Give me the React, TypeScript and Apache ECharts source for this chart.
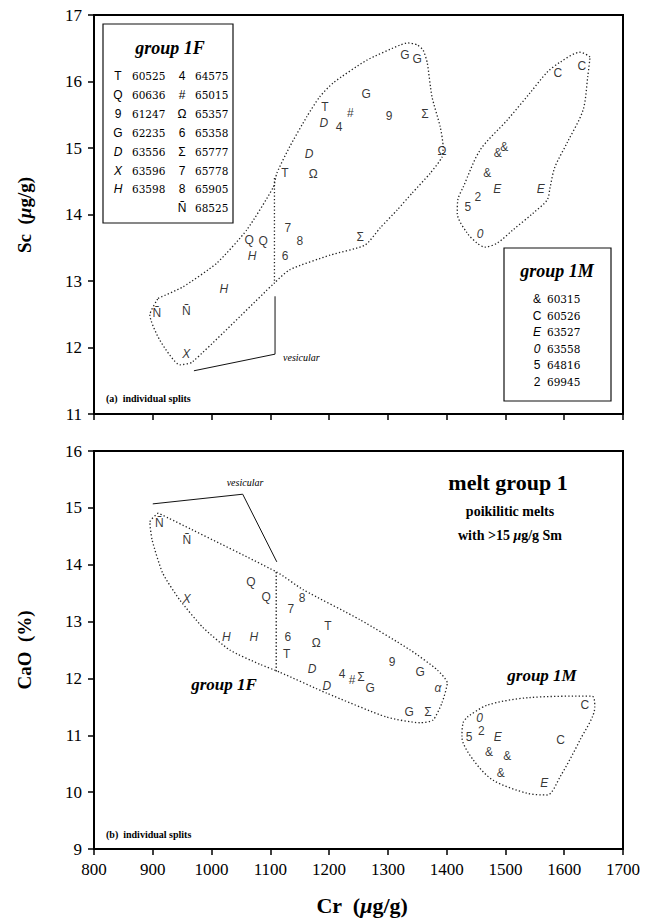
import React, { useEffect, useRef } from "react";
import * as echarts from "echarts";

// Panel (a): Sc vs Cr, individual splits — [symbol, Cr µg/g, Sc µg/g]
const scGroup1F: [string, number, number][] = [
  ["T", 1193, 15.62], ["D", 1191, 15.38], ["4", 1217, 15.32], ["#", 1236, 15.53],
  ["G", 1263, 15.81], ["9", 1302, 15.48], ["Σ", 1363, 15.51], ["Ω", 1392, 14.95],
  ["G", 1329, 16.4], ["G", 1350, 16.34], ["D", 1166, 14.91], ["T", 1125, 14.62],
  ["Ω", 1173, 14.61], ["Q", 1064, 13.62], ["Q", 1088, 13.6], ["H", 1069, 13.38],
  ["7", 1130, 13.8], ["8", 1150, 13.6], ["6", 1125, 13.38], ["Σ", 1253, 13.66],
  ["H", 1021, 12.88], ["Ñ", 907, 12.52], ["Ñ", 957, 12.55], ["X", 957, 11.9],
];
const scGroup1M: [string, number, number][] = [
  ["C", 1589, 16.13], ["C", 1630, 16.23], ["&", 1487, 14.92], ["&", 1498, 15.01],
  ["&", 1469, 14.62], ["E", 1486, 14.38], ["E", 1560, 14.38], ["2", 1453, 14.26],
  ["5", 1436, 14.11], ["0", 1457, 13.71],
];

// Panel (b): CaO vs Cr — [symbol, Cr µg/g, CaO %]
const caoGroup1F: [string, number, number][] = [
  ["Ñ", 911, 14.73], ["Ñ", 958, 14.43], ["Q", 1067, 13.7], ["Q", 1093, 13.43],
  ["X", 958, 13.4], ["8", 1154, 13.41], ["7", 1135, 13.22], ["T", 1198, 12.92],
  ["H", 1025, 12.73], ["H", 1072, 12.73], ["6", 1130, 12.73], ["Ω", 1178, 12.62],
  ["T", 1128, 12.43], ["D", 1171, 12.17], ["9", 1307, 12.29], ["G", 1355, 12.11],
  ["4", 1222, 12.08], ["#", 1239, 11.97], ["Σ", 1254, 12.03], ["D", 1196, 11.87],
  ["G", 1270, 11.83], ["α", 1385, 11.83], ["G", 1336, 11.41], ["Σ", 1368, 11.41],
];
const caoGroup1M: [string, number, number][] = [
  ["C", 1635, 11.53], ["0", 1456, 11.3], ["2", 1459, 11.08], ["5", 1438, 10.97],
  ["E", 1487, 10.97], ["C", 1594, 10.92], ["&", 1472, 10.71], ["&", 1503, 10.64],
  ["&", 1492, 10.34], ["E", 1566, 10.16],
];

// Dotted envelopes around each group (Cr, value)
const scEnvelope1F: [number, number][] = [
  [909, 12.74], [951, 12.91], [1009, 13.27], [1060, 13.77], [1105, 14.41], [1111, 14.62],
  [1133, 15.02], [1162, 15.47], [1184, 15.77], [1207, 15.98], [1264, 16.32], [1321, 16.55],
  [1334, 16.58], [1350, 16.55], [1360, 16.47], [1367, 16.28], [1375, 15.77], [1389, 15.32],
  [1394, 15.02], [1392, 14.86], [1372, 14.62], [1341, 14.32], [1316, 14.07], [1287, 13.8],
  [1261, 13.54], [1202, 13.39], [1133, 13.17], [1108, 12.98], [967, 11.78], [946, 11.74],
  [912, 12.11], [895, 12.49], [909, 12.74],
];
const scEnvelope1M: [number, number][] = [
  [1644, 16.37], [1627, 16.44], [1593, 16.29], [1571, 16.14], [1542, 15.83], [1503, 15.42],
  [1457, 14.97], [1428, 14.41], [1419, 14.22], [1418, 14.02], [1435, 13.72], [1452, 13.57],
  [1465, 13.51], [1486, 13.57], [1513, 13.77], [1547, 14.02], [1571, 14.22], [1576, 14.41],
  [1584, 14.71], [1605, 15.08], [1632, 15.57], [1640, 16.07], [1644, 16.37],
];
const caoEnvelope1F: [number, number][] = [
  [909, 14.91], [895, 14.75], [899, 14.43], [917, 13.85], [946, 13.38], [985, 12.9],
  [1031, 12.5], [1082, 12.25], [1116, 12.11], [1196, 11.74], [1298, 11.32], [1355, 11.22],
  [1377, 11.27], [1392, 11.57], [1401, 11.92], [1384, 12.15], [1338, 12.5], [1253, 13.03],
  [1156, 13.56], [1111, 13.87], [909, 14.91],
];
const caoEnvelope1M: [number, number][] = [
  [1435, 11.32], [1469, 11.53], [1537, 11.66], [1647, 11.69], [1652, 11.5], [1627, 10.92],
  [1593, 10.27], [1571, 9.95], [1537, 9.98], [1479, 10.21], [1445, 10.57], [1426, 10.97],
  [1428, 11.22], [1435, 11.32],
];

// Divider between vesicular and non-vesicular splits, and the bracket pointing to it
const scDivider: [number, number][] = [[1107, 14.55], [1107, 12.98]];
const scVesicularBracket: [number, number][] = [[970, 11.65], [1108, 11.9], [1108, 12.77]];
const caoDivider: [number, number][] = [[1110, 13.87], [1110, 12.12]];
const caoVesicularBracket: [number, number][] = [[900, 15.07], [1053, 15.24], [1111, 14.05]];

// Key: sample numbers for each symbol
const key1FLeft: [string, string][] = [
  ["T", "60525"], ["Q", "60636"], ["9", "61247"], ["G", "62235"],
  ["D", "63556"], ["X", "63596"], ["H", "63598"],
];
const key1FRight: [string, string][] = [
  ["4", "64575"], ["#", "65015"], ["Ω", "65357"], ["6", "65358"],
  ["Σ", "65777"], ["7", "65778"], ["8", "65905"], ["Ñ", "68525"],
];
const key1M: [string, string][] = [
  ["&", "60315"], ["C", "60526"], ["E", "63527"], ["0", "63558"], ["5", "64816"], ["2", "69945"],
];

const ITALIC = new Set(["D", "X", "H", "E", "0", "α"]);
const SANS = '"Liberation Sans", Arial, sans-serif';
const SERIF = '"Liberation Serif", "Times New Roman", serif';
const KEY_SERIF = '"DejaVu Serif", serif';
const INK = "#000";

const symbolPoints = (rows: [string, number, number][]) =>
  rows.map(([s, x, y]) => ({
    name: s,
    value: [x, y],
    label: { fontStyle: ITALIC.has(s) ? "italic" : "normal" },
  }));

const glyphSeries = (rows: [string, number, number][], axis: number) => ({
  type: "scatter",
  xAxisIndex: axis,
  yAxisIndex: axis,
  data: symbolPoints(rows),
  symbolSize: 1,
  itemStyle: { color: "rgba(255,255,255,0)" },
  label: {
    show: true,
    position: "inside",
    formatter: "{b}",
    color: INK,
    textBorderWidth: 0,
    fontFamily: SANS,
    fontSize: 12,
  },
  silent: true,
  z: 5,
});

const lineSeries = (pts: [number, number][], axis: number, dotted: boolean, smooth = 0) => ({
  type: "line",
  xAxisIndex: axis,
  yAxisIndex: axis,
  data: pts,
  smooth,
  symbol: "none",
  lineStyle: dotted
    ? { color: "#222", width: 1.3, type: [1.3, 2.2] }
    : { color: "#111", width: 1 },
  silent: true,
  z: 3,
});

const keyTexts = (
  rows: [string, string][],
  symX: number,
  codeX: number,
  y0: number,
  dy: number,
  size: number
) =>
  rows.flatMap(([s, code], i) => [
    {
      type: "text",
      x: symX,
      y: y0 + i * dy,
      z: 20,
      style: {
        text: s,
        align: "center",
        verticalAlign: "middle",
        font: `${ITALIC.has(s) ? "italic " : ""}12px ${SANS}`,
        fill: INK,
      },
    },
    {
      type: "text",
      x: codeX,
      y: y0 + i * dy,
      z: 20,
      style: {
        text: code,
        align: "left",
        verticalAlign: "middle",
        font: `${size}px ${KEY_SERIF}`,
        fill: INK,
      },
    },
  ]);

const plainText = (x: number, y: number, text: string, font: string, align = "center") => ({
  type: "text",
  x,
  y,
  z: 20,
  style: { text, align, verticalAlign: "middle", font, fill: INK },
});

export default function App() {
  const ref = useRef<HTMLDivElement>(null);

  useEffect(() => {
    if (!ref.current) return;
    const chart = echarts.init(ref.current, null, { renderer: "svg" });

    const xAxisBase = {
      type: "value",
      min: 800,
      max: 1700,
      interval: 100,
      axisLine: { show: true, onZero: false, lineStyle: { color: "#000", width: 2 } },
      axisTick: { show: true, inside: false, length: 6, lineStyle: { color: "#000", width: 1.5 } },
      splitLine: { show: false },
    };
    const yAxisBase = {
      type: "value",
      interval: 1,
      axisLine: { show: true, onZero: false, lineStyle: { color: "#000", width: 2 } },
      axisTick: { show: true, inside: false, length: 6, lineStyle: { color: "#000", width: 1.5 } },
      axisLabel: { color: INK, fontFamily: SERIF, fontSize: 17, margin: 12 },
      splitLine: { show: false },
    };

    const option: any = {
      animation: false,
      backgroundColor: "#fff",
      grid: [
        { left: 94, top: 15, width: 529, height: 399, show: true, borderColor: "#000", borderWidth: 2, backgroundColor: "transparent" },
        { left: 94, top: 451, width: 529, height: 398, show: true, borderColor: "#000", borderWidth: 2, backgroundColor: "transparent" },
      ],
      xAxis: [
        { ...xAxisBase, gridIndex: 0, axisLabel: { show: false } },
        {
          ...xAxisBase,
          gridIndex: 1,
          axisLabel: {
            show: true,
            color: INK,
            fontFamily: SERIF,
            fontSize: 17,
            margin: 12,
            formatter: (v: number) => String(v),
          },
        },
      ],
      yAxis: [
        { ...yAxisBase, gridIndex: 0, min: 11, max: 17 },
        { ...yAxisBase, gridIndex: 1, min: 9, max: 16 },
      ],
      series: [
        lineSeries(scEnvelope1F, 0, true, 0.2),
        lineSeries(scEnvelope1M, 0, true, 0.3),
        lineSeries(scDivider, 0, true),
        lineSeries(scVesicularBracket, 0, false),
        lineSeries(caoEnvelope1F, 1, true, 0.2),
        lineSeries(caoEnvelope1M, 1, true, 0.3),
        lineSeries(caoDivider, 1, true),
        lineSeries(caoVesicularBracket, 1, false),
        glyphSeries(scGroup1F, 0),
        glyphSeries(scGroup1M, 0),
        glyphSeries(caoGroup1F, 1),
        glyphSeries(caoGroup1M, 1),
      ],
      graphic: [
        // key boxes
        {
          type: "rect",
          z: 10,
          shape: { x: 103, y: 24, width: 130, height: 199 },
          style: { fill: "#fff", stroke: "#111", lineWidth: 1.2 },
        },
        {
          type: "rect",
          z: 10,
          shape: { x: 504, y: 248, width: 107, height: 153 },
          style: { fill: "#fff", stroke: "#111", lineWidth: 1.2 },
        },
        plainText(170, 48, "group 1F", `italic bold 18px ${SERIF}`),
        ...keyTexts(key1FLeft, 118, 132, 76, 18.9, 10.5),
        ...keyTexts(key1FRight, 182, 195, 76, 18.9, 10.5),
        plainText(557, 271, "group 1M", `italic bold 18px ${SERIF}`),
        ...keyTexts(key1M, 537, 547, 299, 16.6, 10.5),
        // annotations
        plainText(283, 357, "vesicular", `italic 10px ${SERIF}`, "left"),
        plainText(106, 398, "(a)  individual splits", `bold 10px ${SERIF}`, "left"),
        plainText(245, 482, "vesicular", `italic 10px ${SERIF}`),
        plainText(106, 834, "(b)  individual splits", `bold 10px ${SERIF}`, "left"),
        plainText(508, 482, "melt group 1", `bold 22px ${SERIF}`),
        plainText(510, 511, "poikilitic melts", `bold 14px ${SERIF}`),
        {
          type: "text",
          x: 510,
          y: 535,
          z: 20,
          style: {
            text: "{b|with >15 }{i|μ}{b|g/g Sm}",
            align: "center",
            verticalAlign: "middle",
            rich: {
              b: { font: `bold 14px ${SERIF}`, fill: INK },
              i: { font: `italic bold 14px ${SERIF}`, fill: INK },
            },
          },
        },
        plainText(224, 684, "group 1F", `italic bold 17px ${SERIF}`),
        plainText(542, 675, "group 1M", `italic bold 17px ${SERIF}`),
        // axis titles
        {
          type: "text",
          x: 24,
          y: 215,
          z: 20,
          rotation: Math.PI / 2,
          style: {
            text: "{b|Sc  (}{i|μ}{b|g/g)}",
            align: "center",
            verticalAlign: "middle",
            rich: {
              b: { font: `bold 19px ${SERIF}`, fill: INK },
              i: { font: `italic bold 19px ${SERIF}`, fill: INK },
            },
          },
        },
        {
          type: "text",
          x: 24,
          y: 650,
          z: 20,
          rotation: Math.PI / 2,
          style: {
            text: "CaO  (%)",
            align: "center",
            verticalAlign: "middle",
            font: `bold 19px ${SERIF}`,
            fill: INK,
          },
        },
        {
          type: "text",
          x: 362,
          y: 905,
          z: 20,
          style: {
            text: "{b|Cr  (}{i|μ}{b|g/g)}",
            align: "center",
            verticalAlign: "middle",
            rich: {
              b: { font: `bold 22px ${SERIF}`, fill: INK },
              i: { font: `italic bold 22px ${SERIF}`, fill: INK },
            },
          },
        },
      ],
    };

    chart.setOption(option);
    return () => chart.dispose();
  }, []);

  return (
    <div
      ref={ref}
      style={{ position: "fixed", left: 0, top: 0, width: 648, height: 923, background: "#fff" }}
    />
  );
}
